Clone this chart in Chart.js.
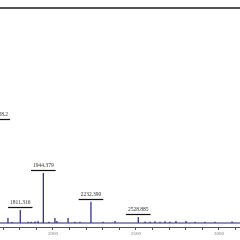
<!DOCTYPE html>
<html>
<head>
<meta charset="utf-8">
<script src="https://cdn.jsdelivr.net/npm/chart.js@4"></script>
<style>
  html, body { margin: 0; padding: 0; background: #fff; }
  #wrap { width: 240px; height: 240px; }
</style>
</head>
<body>
<div id="wrap"><canvas id="spec"></canvas></div>
<script>
// peak positions (m/z) and relative intensities (%)
const peakMz     = [1655, 1729, 1753, 1803, 1850, 1868, 1892, 1910, 1942, 1976, 2012, 2024, 2091, 2133, 2163, 2229, 2302, 2374, 2514, 2555, 2585, 2615, 2645, 2675, 2705, 2741, 2802, 2856, 2916, 2976, 3079];
const peakHeight = [47, 2.3, 0.5, 6.0, 0.6, 0.6, 0.7, 0.9, 23.3, 0.6, 2.3, 0.9, 2.3, 0.6, 0.6, 9.9, 0.6, 0.9, 2.8, 0.7, 0.6, 0.8, 0.6, 0.8, 0.6, 0.9, 0.9, 0.6, 0.6, 0.6, 0.7];
// annotated peaks
const labelMz    = [1655, 1803, 1942, 2229, 2514];
const labelText  = ['1655.928.2', '1811.316', '1944.379', '2232.390', '2528.885'];
const xMin = 1681, xMax = 3127;

// build stick spectrum from the peak lists
function buildSticks() {
    const pts = [{ x: xMin - 40, y: 0 }];
    peakMz.forEach((mz, i) => {
        pts.push({ x: mz, y: 0 });
        pts.push({ x: mz, y: peakHeight[i] });
        pts.push({ x: mz, y: 0 });
    });
    pts.push({ x: xMax + 10, y: 0 });
    return pts;
}

// top frame line and peak labels
const decorPlugin = {
    id: 'decor',
    afterDatasetsDraw(chart) {
        const ctx = chart.ctx;
        const xs = chart.scales.x, ys = chart.scales.y;
        ctx.save();
        ctx.strokeStyle = '#1a1a1a';
        ctx.lineWidth = 1.5;
        ctx.beginPath();
        ctx.moveTo(0, chart.chartArea.top);
        ctx.lineTo(chart.width, chart.chartArea.top);
        ctx.stroke();

        ctx.font = '5.5px "Liberation Serif"';
        ctx.textAlign = 'center';
        ctx.textBaseline = 'bottom';
        labelMz.forEach((mz, i) => {
            const h = peakHeight[peakMz.indexOf(mz)];
            const px = xs.getPixelForValue(mz);
            const py = ys.getPixelForValue(h);
            const w = ctx.measureText(labelText[i]).width;
            ctx.strokeStyle = '#111';
            ctx.lineWidth = 1.2;
            ctx.beginPath();
            ctx.moveTo(px - w / 2 - 2, Math.round(py - 3) + 0.5);
            ctx.lineTo(px + w / 2 + 2, Math.round(py - 3) + 0.5);
            ctx.stroke();
            ctx.fillStyle = '#333';
            ctx.fillText(labelText[i], px, py - 4.5);
        });
        ctx.restore();
    }
};

new Chart(document.getElementById('spec'), {
    type: 'line',
    data: {
        datasets: [{
            data: buildSticks(),
            borderColor: '#23237f',
            borderWidth: 1.2,
            pointRadius: 0,
            tension: 0,
            fill: false
        }]
    },
    plugins: [decorPlugin],
    options: {
        responsive: true,
        maintainAspectRatio: false,
        animation: false,
        layout: { padding: { top: 8, left: 0, right: 0, bottom: 0 } },
        plugins: { legend: { display: false }, tooltip: { enabled: false } },
        scales: {
            x: {
                type: 'linear',
                min: xMin,
                max: xMax,
                afterFit: s => { s.height = 13; s.paddingLeft = 0; s.paddingRight = 0; },
                border: { color: '#555', width: 1 },
                grid: { drawOnChartArea: false, tickLength: 3, tickColor: '#555' },
                ticks: {
                    stepSize: 100,
                    includeBounds: false,
                    maxRotation: 0,
                    autoSkip: false,
                    padding: 1,
                    color: '#777',
                    font: { family: 'Liberation Serif', size: 5 },
                    callback: v => (v % 500 === 0 ? v : '')
                }
            },
            y: {
                display: false,
                min: -1.86,
                max: 100
            }
        }
    }
});
</script>
</body>
</html>
